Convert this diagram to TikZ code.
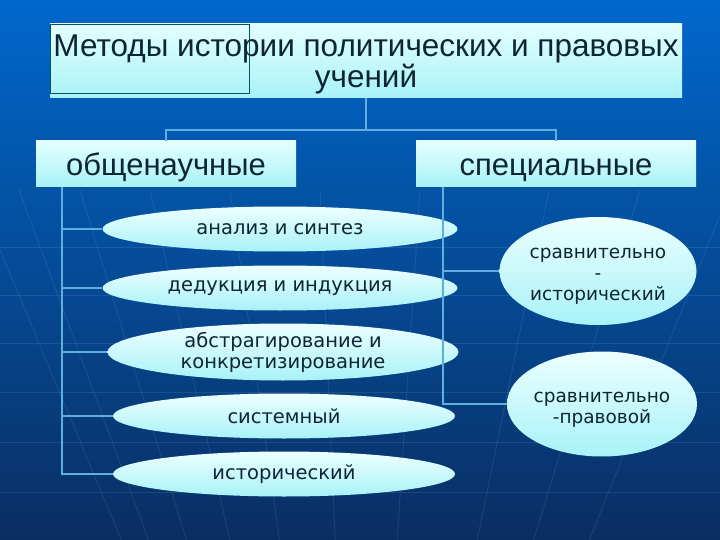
\documentclass[tikz,border=0pt]{standalone}
\usepackage{fontspec}
\setmainfont{Liberation Sans}
\newfontfamily\ellfont{DejaVu Sans}
\usetikzlibrary{positioning, shapes.geometric, calc, backgrounds}

\definecolor{bgtop}{HTML}{0068CC}
\definecolor{bgbot}{HTML}{0A2E62}
\definecolor{boxtop}{HTML}{E4FFFF}
\definecolor{boxbot}{HTML}{A8F2F8}
\definecolor{inktxt}{HTML}{0E2536}
\definecolor{linkc}{HTML}{5FAEE0}

\begin{document}
\begin{tikzpicture}[
  x=1pt, y=-1pt,
  hbox/.style={rectangle, top color=boxtop, bottom color=boxbot, inner sep=0pt,
               align=center, text=inktxt},
  ebox/.style={ellipse, top color=boxtop!70!white, bottom color=boxbot, inner sep=0pt,
               align=center, text=inktxt,
               font=\ellfont\fontsize{19.5}{21}\selectfont},
  link/.style={linkc, line width=1.5pt},
  gridline/.style={white!70!cyan, line width=0.8pt, opacity=0.11},
]
  \useasboundingbox (0,0) rectangle (720,540);

  % ═══ Header ═══════════════════════════════════════════════
  \node[hbox, minimum width=632, minimum height=74, text height=58, text depth=4,
        font=\fontsize{31.5}{31}\selectfont] (title) at (366,61)
        {Методы истории политических и правовых\\учений};
  \draw[inktxt!50!teal, line width=0.5pt] (title.north west) rectangle (249,93);

  % ═══ Two groups ═══════════════════════════════════════════
  \node[hbox, minimum width=260, minimum height=46, text height=24, text depth=0,
        font=\fontsize{31}{32}\selectfont] (gen)  at (166,164) {общенаучные};
  \node[hbox, minimum width=280, minimum height=46, text height=24, text depth=0,
        font=\fontsize{31}{32}\selectfont] (spec) at (556,164) {специальные};

  % General methods (left column)
  \node[ebox, minimum width=355, minimum height=45] (m1) at (280,229) {анализ и синтез};
  \node[ebox, minimum width=355, minimum height=45] (m2) at (280,288) {дедукция и индукция};
  \node[ebox, minimum width=351, minimum height=57] (m3) at (283,352) {абстрагирование и\\конкретизирование};
  \node[ebox, minimum width=342, minimum height=45] (m4) at (284,416) {системный};
  \node[ebox, minimum width=342, minimum height=45] (m5) at (284,474) {исторический};

  % Special methods (right column)
  \node[ebox, minimum width=197, minimum height=108, text height=62, inner xsep=-6pt,
        font=\ellfont\fontsize{18.5}{21}\selectfont] (s1) at (598,271)
        {сравнительно\\-\\исторический};
  \node[ebox, minimum width=190, minimum height=105, text height=42, inner xsep=-6pt,
        font=\ellfont\fontsize{18.5}{21}\selectfont] (s2) at (602,404)
        {сравнительно\\-правовой};

  % ═══ Links ════════════════════════════════════════════════
  \coordinate (bus)  at (366,130);
  \coordinate (ltap) at ([xshift=26]gen.south west);
  \coordinate (rtap) at ([xshift=27]spec.south west);

  \draw[link] (title.south) -- (bus);
  \draw[link] (gen.north) |- (bus) -| (spec.north);

  \draw[link] (ltap) |- (m5.west);
  \foreach \m in {m1, m2, m3, m4} {
    \draw[link] (ltap |- \m.west) -- (\m.west);
  }
  \draw[link] (rtap) |- (s2.west);
  \draw[link] (rtap |- s1.west) -- (s1.west);

  % ═══ Backdrop ═════════════════════════════════════════════
  \begin{pgfonlayer}{background}
    \shade[top color=bgtop, bottom color=bgbot] (0,0) rectangle (720,540);
    \foreach \y in {247, 295, 343, 392, 442, 492} {
      \draw[gridline] (0,\y) -- (720,\y);
    }
    \foreach \t in {-25, 19, 80, 150, 230, 320, 420, 549, 640, 730} {
      \draw[gridline] (\t,190) -- ({360+(\t-360)*0.62},540);
    }
  \end{pgfonlayer}
\end{tikzpicture}
\end{document}
